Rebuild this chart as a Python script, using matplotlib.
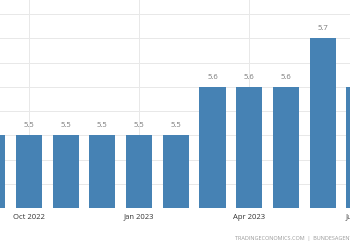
import matplotlib
matplotlib.use("Agg")
from matplotlib import pyplot as plt

# monthly values, Sep 2022 .. Jul 2023 (chart is cropped on both sides)
months = ['Sep 2022', 'Oct 2022', 'Nov 2022', 'Dec 2022', 'Jan 2023', 'Feb 2023',
          'Mar 2023', 'Apr 2023', 'May 2023', 'Jun 2023', 'Jul 2023']
values = [5.5, 5.5, 5.5, 5.5, 5.5, 5.5, 5.6, 5.6, 5.6, 5.7, 5.6]
tick_pos = [1, 4, 7, 10]
tick_labels = ['Oct 2022', 'Jan 2023', 'Apr 2023', 'Jul 2023']

plt.rcParams['font.family'] = ['Open Sans', 'DejaVu Sans']

W, H = 350, 250
fig = plt.figure(figsize=(3.5, 2.5), dpi=100)

# axes wider than the figure so the edge bars get cut like in the screenshot
step = 36.7
left_px = 29 - 1.5 * step
right_px = 29 + 9.5 * step
ax = fig.add_axes([left_px / W, 1 - 208 / H, (right_px - left_px) / W, 208 / H])

x = list(range(len(values)))
bars = ax.bar(x, values, width=0.71, color='#4682b4', zorder=2)
for xi, v in zip(x, values):
    ax.text(xi, v + 0.012, f'{v:.1f}', ha='center', va='bottom',
            fontsize=5.5, color='#777777', zorder=3)

ax.set_xlim(-0.5, 10.5)
ax.set_ylim(5.35, 5.35 + 208 / 485)
ax.set_yticks([5.35 + 0.05 * k for k in range(9)])
ax.set_xticks(tick_pos)
ax.set_xticklabels(tick_labels, fontsize=5.5, color='#333333')
ax.tick_params(axis='x', length=0, pad=4)
ax.tick_params(axis='y', length=0, labelleft=False)
ax.grid(True, color='#e8e8e8', linewidth=0.7, zorder=0)
for s in ax.spines.values():
    s.set_visible(False)

fig.text(235 / W, 1 - 238 / H, 'TRADINGECONOMICS.COM  |  BUNDESAGENTUR FÜR ARBEIT',
         fontsize=4, color='#999999', ha='left', va='center')

fig.savefig('out.png', dpi=100)
